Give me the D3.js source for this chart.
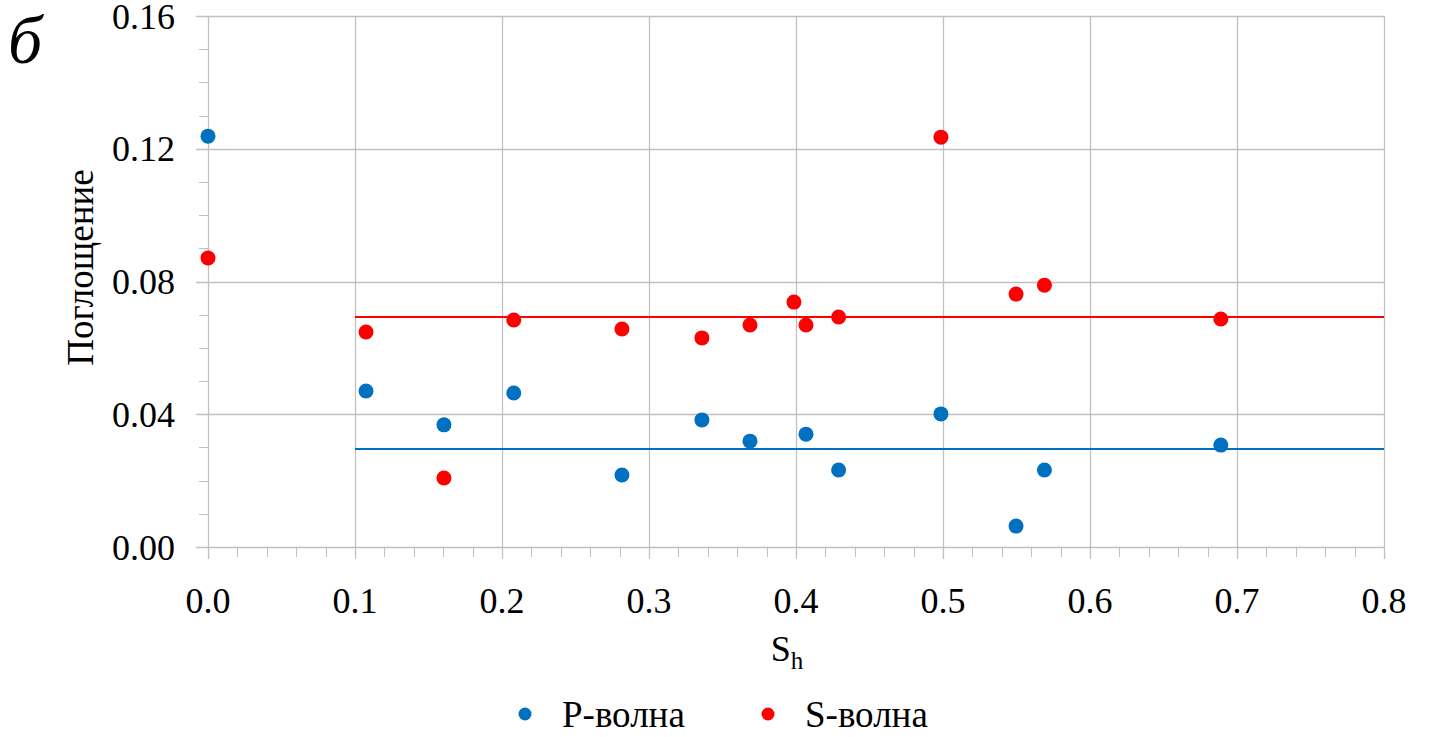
<!DOCTYPE html>
<html>
<head>
<meta charset="utf-8">
<script src="https://cdn.jsdelivr.net/npm/d3@7"></script>
<style>
  body { margin: 0; background: #fff; }
  svg text { font-family: "Liberation Serif", "Times New Roman", "DejaVu Serif", serif; fill: #000; }
</style>
</head>
<body>
<svg class="chart" width="1429" height="737"></svg>
<script>
// data
var shValues = [0, 0.1075, 0.1605, 0.208, 0.2816, 0.336, 0.3687, 0.4068, 0.429, 0.4986, 0.5497, 0.569, 0.689];
var pWave = [0.1238, 0.0470, 0.0368, 0.0464, 0.0217, 0.0383, 0.0319, 0.0340, 0.0232, 0.0401, 0.0063, 0.0232, 0.0307];
var shValuesS = [0, 0.1075, 0.1605, 0.208, 0.2816, 0.336, 0.3687, 0.3986, 0.4068, 0.429, 0.4986, 0.5497, 0.569, 0.689];
var sWave = [0.0871, 0.0648, 0.0208, 0.0684, 0.0657, 0.0630, 0.0669, 0.0738, 0.0669, 0.0693, 0.1235, 0.0762, 0.0789, 0.0687];
var pMean = 0.0295, sMean = 0.0693;
var meanRange = [0.1, 0.8];
var xTicks = [0, 0.1, 0.2, 0.3, 0.4, 0.5, 0.6, 0.7, 0.8];
var yTicks = [0, 0.04, 0.08, 0.12, 0.16];
var seriesNames = ["P-волна", "S-волна"];
var colors = ["#0070C0", "#FF0000"];

var margin = {top: 16, right: 45, bottom: 190, left: 208},
    width = 1429 - margin.left - margin.right,
    height = 737 - margin.top - margin.bottom;

var svg = d3.select('.chart');
var chart = svg.append('g').attr('transform', 'translate(' + margin.left + ',' + margin.top + ')');

var x = d3.scaleLinear().domain([0, 0.8]).range([0, width]);
var y = d3.scaleLinear().domain([0, 0.16]).range([height, 0]);

var grid = '#c0c0c0';

// minor ticks
chart.append('g').selectAll('line')
  .data(d3.range(0, 0.1601, 0.01))
  .enter().append('line')
  .attr('x1', -9).attr('x2', 0)
  .attr('y1', function(d){ return Math.round(y(d)) + 0.5; })
  .attr('y2', function(d){ return Math.round(y(d)) + 0.5; })
  .attr('stroke', grid).attr('stroke-width', 1);

chart.append('g').selectAll('line')
  .data(d3.range(0, 0.8001, 0.02))
  .enter().append('line')
  .attr('x1', function(d){ return Math.round(x(d)) + 0.5; })
  .attr('x2', function(d){ return Math.round(x(d)) + 0.5; })
  .attr('y1', height).attr('y2', height + 10)
  .attr('stroke', grid).attr('stroke-width', 1);

// gridlines
chart.append('g').selectAll('line')
  .data(yTicks)
  .enter().append('line')
  .attr('x1', -12).attr('x2', width)
  .attr('y1', function(d){ return Math.round(y(d)) + 0.5; })
  .attr('y2', function(d){ return Math.round(y(d)) + 0.5; })
  .attr('stroke', grid).attr('stroke-width', 1.3);

chart.append('g').selectAll('line')
  .data(xTicks)
  .enter().append('line')
  .attr('x1', function(d){ return Math.round(x(d)) + 0.5; })
  .attr('x2', function(d){ return Math.round(x(d)) + 0.5; })
  .attr('y1', 0).attr('y2', height + 12)
  .attr('stroke', grid).attr('stroke-width', 1.3);

// tick labels
chart.append('g').selectAll('text')
  .data(yTicks)
  .enter().append('text')
  .attr('x', -33)
  .attr('y', function(d){ return y(d); })
  .attr('dy', '0.35em')
  .attr('text-anchor', 'end')
  .style('font-size', '36px')
  .text(function(d){ return d3.format('.2f')(d); });

chart.append('g').selectAll('text')
  .data(xTicks)
  .enter().append('text')
  .attr('x', function(d){ return x(d); })
  .attr('y', height + 66)
  .attr('text-anchor', 'middle')
  .style('font-size', '36px')
  .text(function(d){ return d3.format('.1f')(d); });

// axis titles
chart.append('text')
  .attr('transform', 'translate(-115,' + (height / 2 - 14) + ') rotate(-90)')
  .attr('text-anchor', 'middle')
  .style('font-size', '37px')
  .text('Поглощение');

var xt = chart.append('text')
  .attr('x', x(0.4) - 9)
  .attr('y', height + 114)
  .attr('text-anchor', 'middle')
  .style('font-size', '36px');
xt.append('tspan').text('S');
xt.append('tspan').attr('dy', 8).style('font-size', '25px').text('h');

// panel letter
svg.append('text')
  .attr('x', 8).attr('y', 63)
  .style('font-size', '68px')
  .style('font-style', 'italic')
  .text('б');

// mean lines
var means = [pMean, sMean];
chart.append('g').selectAll('line')
  .data(means)
  .enter().append('line')
  .attr('x1', x(meanRange[0])).attr('x2', x(meanRange[1]))
  .attr('y1', function(d){ return y(d); })
  .attr('y2', function(d){ return y(d); })
  .attr('stroke', function(d, i){ return colors[i]; })
  .attr('stroke-width', 2);

// points
chart.append('g').selectAll('circle')
  .data(pWave)
  .enter().append('circle')
  .attr('cx', function(d, i){ return x(shValues[i]); })
  .attr('cy', function(d){ return y(d); })
  .attr('r', 7.5)
  .style('fill', colors[0]);

chart.append('g').selectAll('circle')
  .data(sWave)
  .enter().append('circle')
  .attr('cx', function(d, i){ return x(shValuesS[i]); })
  .attr('cy', function(d){ return y(d); })
  .attr('r', 7.5)
  .style('fill', colors[1]);

// legend
var legX = [525, 768];
var leg = svg.append('g').selectAll('g')
  .data(seriesNames)
  .enter().append('g')
  .attr('transform', function(d, i){ return 'translate(' + legX[i] + ',714)'; });
leg.append('circle').attr('r', 6.5).style('fill', function(d, i){ return colors[i]; });
leg.append('text')
  .attr('x', 37).attr('dy', '0.35em')
  .style('font-size', '37px')
  .text(function(d){ return d; });
</script>
</body>
</html>
